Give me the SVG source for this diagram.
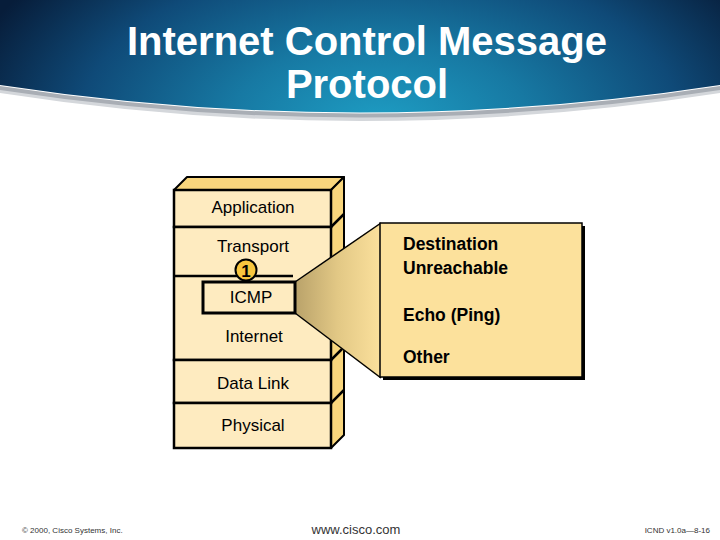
<svg xmlns="http://www.w3.org/2000/svg" width="720" height="540" viewBox="0 0 720 540">
  <defs>
    <radialGradient id="hdr" cx="380" cy="125" r="430" gradientUnits="userSpaceOnUse" gradientTransform="translate(380 125) scale(1 0.55) translate(-380 -125)">
      <stop offset="0" stop-color="#1e9ec4"/>
      <stop offset="0.35" stop-color="#1779a3"/>
      <stop offset="0.7" stop-color="#0f4a78"/>
      <stop offset="1" stop-color="#071d3a"/>
    </radialGradient>
    <linearGradient id="funnel" x1="295" y1="0" x2="380" y2="0" gradientUnits="userSpaceOnUse">
      <stop offset="0" stop-color="#b9a26a"/>
      <stop offset="0.5" stop-color="#e2c885"/>
      <stop offset="1" stop-color="#fbe09c"/>
    </linearGradient>
    <style>
      .lbl { font-family: "Liberation Sans", Arial, sans-serif; font-size: 17px; fill: #000; text-anchor: middle; }
      .call { font-family: "Liberation Sans", Arial, sans-serif; font-size: 17.5px; font-weight: bold; fill: #000; }
      .front { fill: #feebc0; stroke: #000; stroke-width: 2.5; }
      .side { fill: #f9d67d; stroke: #000; stroke-width: 2; stroke-linejoin: round; }
      .edge { stroke: #000; stroke-width: 2.5; fill: none; }
      .foot { font-family: "Liberation Sans", Arial, sans-serif; font-size: 8px; fill: #333; }
      .title { font-family: "Liberation Sans", Arial, sans-serif; font-size: 40px; font-weight: bold; fill: #fff; text-anchor: middle; }
    </style>
  </defs>

  <rect x="0" y="0" width="720" height="540" fill="#fff"/>

  <!-- header -->
  <g id="header">
    <path d="M0,87 Q360,143 720,87 V93 Q360,149 0,93 Z" fill="#d4d7db"/>
    <path d="M0,86 Q360,141 720,86 V90 Q360,145 0,90 Z" fill="#a9aeb5"/>
    <path d="M0,0 H720 V85 Q360,140 0,85 Z" fill="url(#hdr)"/>
    <text class="title" x="367" y="55">Internet Control Message</text>
    <text class="title" x="367" y="98">Protocol</text>
  </g>

  <!-- protocol stack -->
  <g id="stack">
    <polygon class="side" points="174,190 187,177 344,177 331,190"/>
    <polygon class="side" points="331,190 344,177 344,435 331,448"/>
    <line class="edge" x1="331" y1="227" x2="344" y2="214"/>
    <line class="edge" x1="331" y1="360" x2="344" y2="347"/>
    <line class="edge" x1="331" y1="403" x2="344" y2="390"/>
    <g id="application">
      <rect class="front" x="174" y="190" width="157" height="37"/>
      <text class="lbl" x="253" y="213">Application</text>
    </g>
    <g id="internet">
      <rect class="front" x="174" y="227" width="157" height="133"/>
      <text class="lbl" x="254" y="342">Internet</text>
    </g>
    <g id="transport">
      <line class="edge" x1="174" y1="276" x2="293" y2="276"/>
      <text class="lbl" x="253" y="252">Transport</text>
    </g>
    <g id="datalink">
      <rect class="front" x="174" y="360" width="157" height="43"/>
      <text class="lbl" x="253" y="389">Data Link</text>
    </g>
    <g id="physical">
      <rect class="front" x="174" y="403" width="157" height="45"/>
      <text class="lbl" x="253" y="431">Physical</text>
    </g>
  </g>

  <!-- callout funnel -->
  <g id="connectors">
    <polygon points="295,282 380,223 380,378 295,313" fill="url(#funnel)"/>
    <line x1="295" y1="282" x2="381" y2="223" stroke="#000" stroke-width="1.5"/>
    <line x1="295" y1="313" x2="381" y2="378" stroke="#000" stroke-width="1.5"/>
  </g>

  <g id="icmp">
    <rect x="203" y="282" width="92" height="31" fill="#feebc0" stroke="#000" stroke-width="3"/>
    <text class="lbl" x="251" y="303">ICMP</text>
  </g>

  <g id="step1">
    <circle cx="246" cy="270" r="10.5" fill="#f8c63e" stroke="#000" stroke-width="2"/>
    <text x="246" y="276.5" font-family="'Liberation Sans', Arial, sans-serif" font-size="17" font-weight="bold" text-anchor="middle">1</text>
  </g>

  <g id="callout">
    <rect x="383" y="226" width="202" height="154" fill="#000"/>
    <rect x="380" y="223" width="202" height="154" fill="#fce19c" stroke="#000" stroke-width="1.5"/>
    <text class="call" x="403" y="250">Destination</text>
    <text class="call" x="403" y="274">Unreachable</text>
    <text class="call" x="403" y="321">Echo (Ping)</text>
    <text class="call" x="403" y="363">Other</text>
  </g>

  <!-- footer -->
  <g id="footer">
    <text class="foot" x="22" y="533">© 2000, Cisco Systems, Inc.</text>
    <text x="356" y="534" font-family="'Liberation Sans', Arial, sans-serif" font-size="13" fill="#333" text-anchor="middle">www.cisco.com</text>
    <text class="foot" x="710" y="533" text-anchor="end">ICND v1.0a—8-16</text>
  </g>
</svg>
